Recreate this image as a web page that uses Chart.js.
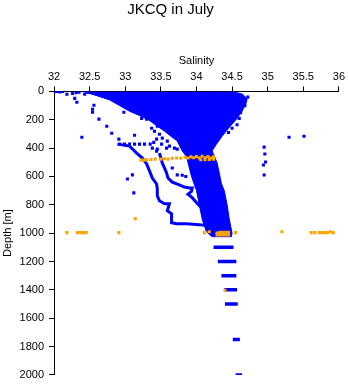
<!DOCTYPE html>
<html><head><meta charset="utf-8">
<script src="https://cdn.jsdelivr.net/npm/chart.js@4.4.1/dist/chart.umd.min.js"></script>
<style>html,body{margin:0;padding:0;background:#fff}canvas{display:block}</style>
</head><body>
<canvas id="c" width="348" height="384"></canvas>
<script>
const chartTitle = 'JKCQ in July';
const xTitle = 'Salinity';
const yTitle = 'Depth [m]';
const xTicks = [32, 32.5, 33, 33.5, 34, 34.5, 35, 35.5, 36];
const yTicks = [0, 200, 400, 600, 800, 1000, 1200, 1400, 1600, 1800, 2000];

// envelope of the dense cloud of profiles (salinity, depth)
const denseS = [32.40, 32.60, 32.78, 32.92, 33.06, 33.20, 33.34, 33.45, 33.55, 33.65, 33.73, 33.80, 33.86, 33.88, 33.93, 34.00, 34.04, 34.08, 34.11, 34.16, 34.22,
                34.49, 34.50, 34.46, 34.43, 34.39, 34.35, 34.32, 34.29, 34.25, 34.22, 34.28, 34.36, 34.45, 34.56, 34.64, 34.70, 34.71, 34.65, 34.50];
const denseD = [0, 30, 60, 100, 140, 170, 205, 245, 280, 320, 350, 420, 460, 500, 600, 700, 800, 900, 950, 1000, 1025,
                1025, 1000, 900, 800, 700, 650, 575, 505, 456, 420, 372, 316, 260, 196, 140, 80, 55, 20, 0];

// two detached profiles on the fresh side
const profileAS = [32.89, 33.06, 33.16, 33.24, 33.30, 33.34, 33.38, 33.44, 33.45, 33.45, 33.48, 33.55, 33.62, 33.59, 33.65, 33.65, 33.65, 33.72, 33.86, 34.04, 34.14, 34.14];
const profileAD = [372, 386, 435, 470, 512, 561, 611, 653, 688, 737, 772, 793, 793, 842, 863, 891, 926, 933, 933, 940, 947, 982];
const profileBS = [33.48, 33.50, 33.52, 33.55, 33.58, 33.60, 33.66, 33.76, 33.83, 33.90, 33.94, 33.93, 33.88, 33.94, 34.01, 34.07];
const profileBD = [435, 470, 505, 540, 575, 611, 640, 660, 675, 681, 681, 705, 725, 750, 790, 821];

// isolated blue observations
const blueS = [32.02, 32.05, 32.08, 32.12, 32.18, 32.26, 32.29, 32.32, 32.31, 32.35, 32.43, 32.47,
               32.56, 32.54, 32.54, 32.63, 32.74, 32.81, 32.39, 32.91, 32.98, 33.13, 33.10, 33.03, 33.12,
               32.92, 32.99, 33.06, 33.13, 33.20, 33.27,
               33.23, 33.30, 33.37, 33.41, 33.45, 33.48, 33.44, 33.52, 33.59, 33.51, 33.58, 33.62, 33.69, 33.73, 33.44, 33.38, 33.45, 33.35, 33.40,
               34.72, 34.68, 34.62, 34.60, 34.57, 34.50, 34.45,
               35.30, 35.51, 34.95, 34.96, 34.97, 34.94, 34.95,
               33.66, 33.73, 33.80, 33.85];
const blueD = [0, 0, 3, 0, 20, 14, 49, 77, 10, 5, 20, 5,
               98, 126, 147, 196, 246, 295, 323, 337, 147, 309, 589, 618, 716,
               372, 372, 372, 372, 372, 372,
               190, 196, 260, 281, 246, 302, 337, 330, 351, 372, 400, 386, 400, 407, 421, 400, 407, 372, 360,
               40, 100, 150, 190, 235, 260, 290,
               323, 316, 393, 442, 498, 519, 590,
               540, 589, 592, 600];

// deep bottle levels: depth, salinity range
const barD = [1100, 1200, 1300, 1400, 1500, 1750, 2000];
const barMinS = [34.24, 34.30, 34.35, 34.39, 34.40, 34.51, 34.55];
const barMaxS = [34.52, 34.56, 34.56, 34.57, 34.58, 34.61, 34.64];

// orange observations
const orangeS = [33.22, 33.26, 33.30, 33.36, 33.42, 33.50, 33.55, 33.60, 33.66, 33.72, 33.78, 33.84, 33.88, 33.92, 33.96, 34.00, 34.04, 34.08, 34.12, 34.16, 34.20, 34.24, 34.24, 34.18, 34.12, 34.06,
                 32.18, 32.33, 32.37, 32.41, 32.45, 32.91, 33.14, 34.11, 34.18,
                 34.29, 34.33, 34.37, 34.41, 34.45, 34.29, 34.33, 34.37, 34.41, 34.45, 34.55,
                 35.20, 35.61, 35.66, 35.72, 35.76, 35.80, 35.84, 35.88, 35.92, 34.40];
const orangeD = [485, 485, 483, 480, 478, 478, 475, 478, 472, 470, 472, 465, 470, 462, 468, 460, 470, 458, 468, 460, 470, 462, 478, 480, 482, 482,
                 996, 996, 996, 996, 996, 996, 898, 996, 990,
                 1000, 995, 995, 995, 995, 1012, 1012, 1012, 1012, 1012, 996,
                 990, 996, 996, 996, 996, 996, 996, 990, 996, 1403];

const BLUE = '#0000ff';
const ORANGE = '#ffa500';
const FONT = 'Liberation Sans, Arial, Helvetica, sans-serif';
const pts = (S, D) => S.map((s, i) => ({x: s, y: D[i]}));

const datasets = [
  {data: pts(orangeS, orangeD), pointStyle: 'rect', pointRadius: 2.2, borderWidth: 0, backgroundColor: ORANGE, order: 0},
  {data: pts(blueS, blueD), pointStyle: 'rect', pointRadius: 2.2, borderWidth: 0, backgroundColor: BLUE, order: 1},
  {data: pts(profileAS, profileAD), showLine: true, pointRadius: 0, borderWidth: 3, borderColor: BLUE, order: 2},
  {data: pts(profileBS, profileBD), showLine: true, pointRadius: 0, borderWidth: 3, borderColor: BLUE, order: 2},
];
barD.forEach((d, i) => datasets.push({
  data: [{x: barMinS[i], y: d}, {x: barMaxS[i], y: d}],
  showLine: true, pointRadius: 0, borderWidth: 3.5, borderColor: BLUE, borderCapStyle: 'butt', order: 2
}));
datasets.push({data: pts(denseS, denseD), showLine: true, fill: 'shape', pointRadius: 0, borderWidth: 1,
  borderColor: BLUE, backgroundColor: BLUE, order: 3});

new Chart(document.getElementById('c'), {
  type: 'scatter',
  data: {datasets},
  options: {
    responsive: false,
    animation: false,
    events: [],
    layout: {padding: {left: 0, right: 7, top: 0, bottom: 1}},
    plugins: {
      legend: {display: false},
      tooltip: {enabled: false},
      title: {display: true, text: chartTitle, color: '#000', font: {family: FONT, size: 15, weight: 'normal'}, padding: {top: 1, bottom: 35}}
    },
    scales: {
      x: {
        type: 'linear', position: 'top', min: xTicks[0], max: xTicks[xTicks.length - 1],
        afterBuildTicks: s => { s.ticks = xTicks.map(v => ({value: v})); },
        ticks: {color: '#000', font: {family: FONT, size: 11}, padding: 3, maxRotation: 0, autoSkip: false, callback: v => String(v)},
        grid: {drawOnChartArea: false, drawTicks: true, tickLength: 5, color: '#000'},
        border: {display: true, color: '#000', width: 1},
        title: {display: true, text: xTitle, color: '#000', font: {family: FONT, size: 11}, padding: {top: 0, bottom: 0}}
      },
      y: {
        type: 'linear', reverse: true, min: yTicks[0], max: yTicks[yTicks.length - 1],
        afterBuildTicks: s => { s.ticks = yTicks.map(v => ({value: v})); },
        ticks: {color: '#000', font: {family: FONT, size: 11, lineHeight: 0.75}, padding: 5, autoSkip: false, callback: v => String(v)},
        grid: {drawOnChartArea: false, drawTicks: true, tickLength: 5, color: '#000'},
        border: {display: true, color: '#000', width: 1},
        title: {display: true, text: yTitle, color: '#000', font: {family: FONT, size: 11}, padding: {top: 1.4, bottom: 0}}
      }
    }
  }
});
</script>
</body></html>
